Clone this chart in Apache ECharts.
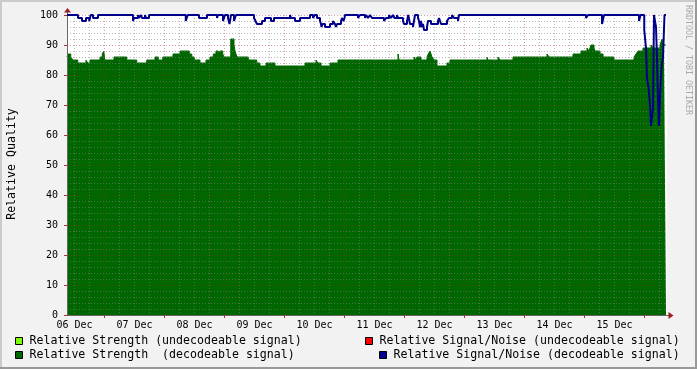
<!DOCTYPE html>
<html><head><meta charset="utf-8">
<script src="https://cdn.jsdelivr.net/npm/echarts@6/dist/echarts.min.js"></script>
<style>html,body{margin:0;padding:0;background:#F2F2F2;}#c{width:697px;height:369px;}</style>
</head><body><div id="c"></div>
<script>
// ---- data (x = hours from left edge of the graph, 10 days) ----
const dayLabels = ['06 Dec','07 Dec','08 Dec','09 Dec','10 Dec','11 Dec','12 Dec','13 Dec','14 Dec','15 Dec'];
const endHour = 239.6;
// Relative Strength (decodeable): change points
const strengthHours = [0,0.4,1.5,2.3,4.3,7.6,8.3,9.2,13.2,14.1,14.7,15.1,18.8,23.9,27.9,31.9,35.2,36.5,38.3,42.4,45.2,48.9,49.9,50.9,53.2,55.6,57.2,58.5,59.6,60.5,61.2,62.3,62.8,65.5,66.8,67.2,67.6,68.1,72.5,75.9,77.2,79.6,83.2,95.2,99.6,100.3,101.6,105.2,108.4,132.4,132.8,138.8,139.6,140,141.6,144,144.5,145.2,146,146.8,148,152,153.2,168,168.4,172.4,173.2,178.4,192,192.8,202.4,205.6,208,208.8,209.6,210.8,211.2,213.2,214.4,218.8,226.8,227.6,228.4,230.4,233.6,234.4,237.2,238,238.8];
const strengthValues = [86,87,86,85,84,85,84,85,86,87,88,85,86,85,84,85,86,85,86,87,88,87,86,85,84,85,86,87,88,87,88,87,86,92,90,88,87,86,85,84,83,84,83,84,85,84,83,84,85,87,85,86,85,86,85,86,87,88,86,85,83,84,85,86,85,86,85,86,87,86,87,88,89,88,90,89,88,87,86,85,86,87,88,89,90,89,90,92,90];
// Relative Signal/Noise (decodeable): change points
const snrHours = [0,4.4,6,7.6,8.9,9.5,10.4,12.4,26.4,26.8,28.4,28.8,29.6,30,31.2,31.6,32.8,47.5,48.3,52.8,56,60,60.4,62.4,63.2,64.4,65,65.6,66.8,67.6,74.8,75.4,76,78,79.2,81.6,82.8,89.2,89.6,91.2,93.2,97.2,98.4,99.1,100,101.2,101.6,101.8,102.2,103.2,105.2,106.4,107.2,107.6,108,109.6,110,110.6,111,111.2,116.4,117.2,119.2,119.6,120.4,121.2,122,126.8,127.6,128.8,129.6,130.4,131,132,132.4,134.4,134.8,136,136.5,137.2,138.4,139.2,140.4,140.8,141.2,141.6,142,142.4,142.8,144,144.4,145.6,148.4,148.8,149.2,149.6,152,152.8,154,154.8,156.4,156.8,207.6,208.4,214,214.8,228.8,229.4,230.9,231.6,232,232.6,233.2,233.6,234.4,234.8,235.6,236,236.4,236.8,237.2,237.6,238,238.4,239];
const snrValues = [100,99,98,99,98,100,99,100,98,99,100,99,100,99,100,99,100,98,100,99,100,99,100,98,100,99,97,100,98,100,99,98,97,98,99,98,99,100,99,98,99,100,99,100,99,98,97,96,97,96,97,98,97,96,97,98,99,98,99,100,99,100,99,100,99,100,99,98,99,100,99,100,99,100,99,98,97,98,100,97,96,100,99,98,96,98,96,97,95,96,98,97,98,99,98,97,98,99,100,99,98,100,99,100,97,100,98,100,95,89,79,76,70,63,69,100,96,86,72,63,73,80,84,86,100];
const legendLabels = ['Relative Strength (undecodeable signal)','Relative Signal/Noise (undecodeable signal)','Relative Strength  (decodeable signal)','Relative Signal/Noise (decodeable signal)'];
const legendColors = ['#7FFF00','#FF0000','#006600','#00008C'];
const yTitle = 'Relative Quality';
const watermark = 'RRDTOOL / TOBI OETIKER';

// ---- build ----
const mono = 'DejaVu Sans Mono';
const gridCol = 'rgba(130,130,130,0.55)';
const mgridCol = 'rgba(160,40,40,0.45)';
const majorX = [], minorX = [], labelX = [], minorY = [];
for (let i = 0; i < dayLabels.length; i++) { majorX.push(15 + 24 * i); labelX.push(3 + 24 * i); }
for (let h = 3; h < 240; h += 6) if ((h - 15) % 24 !== 0) minorX.push(h);
for (let v = 2; v < 100; v += 2) if (v % 10 !== 0) minorY.push(v);

function steps(hours, vals) {
  const d = hours.map((h, i) => [h, vals[i]]);
  d.push([endHour, vals[vals.length - 1]]);
  return d;
}

const legendPos = [[15, 341, 30], [365, 341, 380], [15, 355, 30], [379, 355, 394]];
const graphic = [
  {type:'rect', shape:{x:0,y:0,width:697,height:2}, style:{fill:'#CBCBCB'}, silent:true},
  {type:'rect', shape:{x:0,y:0,width:2,height:369}, style:{fill:'#CBCBCB'}, silent:true},
  {type:'rect', shape:{x:0,y:367,width:697,height:2}, style:{fill:'#999999'}, silent:true},
  {type:'rect', shape:{x:695,y:0,width:2,height:369}, style:{fill:'#999999'}, silent:true},
  {type:'text', x:11.5, y:164, rotation:Math.PI/2, style:{text:yTitle, font:'11.6px "DejaVu Sans Mono"', fill:'#000', textAlign:'center', textVerticalAlign:'middle'}},
  {type:'text', x:688, y:60, rotation:-Math.PI/2, style:{text:watermark, font:'8.3px "DejaVu Sans Mono"', fill:'#AAAAAA', textAlign:'center', textVerticalAlign:'middle'}},
  {type:'line', shape:{x1:67.5,y1:12,x2:67.5,y2:15}, style:{stroke:'#666', lineWidth:1}},
  {type:'polygon', shape:{points:[[64,12.5],[71,12.5],[67.5,8]]}, style:{fill:'#9A2020'}, z:10},
  {type:'line', shape:{x1:667,y1:315.5,x2:669,y2:315.5}, style:{stroke:'#666', lineWidth:1}},
  {type:'polygon', shape:{points:[[668.5,312],[668.5,319],[673.5,315.5]]}, style:{fill:'#9A2020'}, z:10}
];
legendLabels.forEach((t, i) => {
  const p = legendPos[i];
  graphic.push({type:'rect', shape:{x:p[0]+0.5, y:p[1]-3.5, width:7, height:7}, style:{fill:legendColors[i], stroke:'#000', lineWidth:1}});
  graphic.push({type:'text', x:p[2]-0.5, y:p[1], style:{text:t, font:'11.6px "DejaVu Sans Mono"', fill:'#000', textAlign:'left', textVerticalAlign:'middle'}});
});

const chart = echarts.init(document.getElementById('c'), null, {renderer:'canvas'});
chart.setOption({
  animation:false,
  backgroundColor:'#F2F2F2',
  grid:{left:67, top:15, width:600, height:300, show:true, backgroundColor:'#FFFFFF', borderWidth:0},
  xAxis:[
    {type:'value', min:0, max:240, z:3,
     axisLine:{show:true, onZero:false, lineStyle:{color:'#666', width:1}},
     axisTick:{show:true, customValues:majorX, length:3, lineStyle:{color:'#B03030'}},
     axisLabel:{show:true, customValues:labelX, formatter:v => dayLabels[Math.round((v - 3) / 24)], fontFamily:mono, fontSize:10, color:'#000', margin:5},
     splitLine:{show:true, lineStyle:{color:mgridCol, type:[1,2], width:1}}},
    {type:'value', min:0, max:240, z:3,
     axisLine:{show:false}, axisTick:{show:false, customValues:minorX}, axisLabel:{show:false},
     splitLine:{show:true, lineStyle:{color:gridCol, type:[1,2], width:1}}}
  ],
  yAxis:[
    {type:'value', min:0, max:100, interval:10, z:3,
     axisLine:{show:true, onZero:false, lineStyle:{color:'#666', width:1}},
     axisTick:{show:true, length:3, lineStyle:{color:'#B03030'}},
     axisLabel:{fontFamily:mono, fontSize:10, color:'#000', margin:9},
     splitLine:{show:true, lineStyle:{color:mgridCol, type:[1,2], width:1}}},
    {type:'value', min:0, max:100, z:3,
     axisLine:{show:false}, axisTick:{show:false, customValues:minorY}, axisLabel:{show:false},
     splitLine:{show:true, lineStyle:{color:gridCol, type:[1,2], width:1}}}
  ],
  series:[
    {name:legendLabels[2], type:'line', step:'end', data:steps(strengthHours, strengthValues), symbol:'none',
     lineStyle:{width:1, color:'#006600'}, areaStyle:{color:'#006600', opacity:1}, z:2},
    {name:legendLabels[3], type:'line', step:'end', data:steps(snrHours, snrValues), symbol:'none',
     lineStyle:{width:2, color:'#00008C'}, z:4}
  ],
  graphic: graphic
});
</script>
</body></html>
